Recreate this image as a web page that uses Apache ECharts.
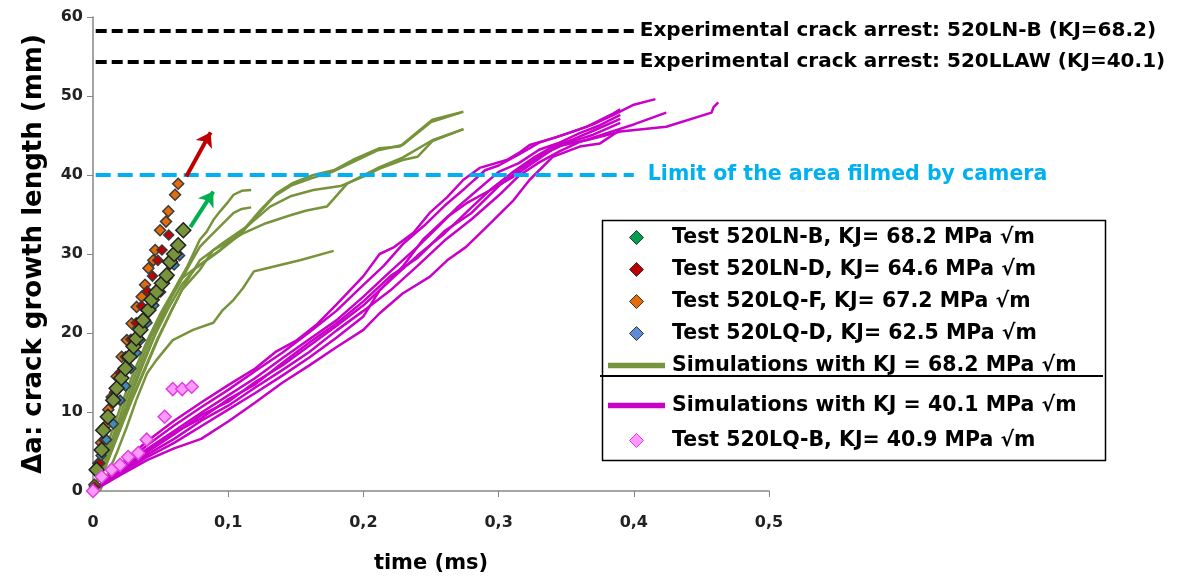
<!DOCTYPE html>
<html lang="en">
<head>
<meta charset="UTF-8">
<title>Crack growth vs time</title>
<script src="https://cdn.jsdelivr.net/npm/echarts@6/dist/echarts.min.js"></script>
</head>
<body style="margin:0">
<div id="main" style="width:1183px;height:583px;"></div>
<script type="text/javascript">

// --- tests (time ms, crack growth mm)
var testLNB = [[0.0027,2.7],[0.0064,5.2],[0.0076,7.7],[0.011,9.4],[0.015,11.5],[0.0175,13.0],[0.021,14.3],[0.024,15.5],[0.027,17.0],[0.030,18.3],[0.032,19.3],[0.035,20.4],[0.037,21.6],[0.041,22.9],[0.0434,24.2],[0.047,25.2],[0.051,26.3],[0.0545,27.3],[0.057,29.0],[0.060,30.0],[0.063,31.1],[0.0668,33.0]];
var testLND = [[0.001,0.5],[0.005,3.5],[0.008,6.5],[0.012,9.5],[0.016,12.5],[0.02,15],[0.024,17],[0.028,19.2],[0.032,21.3],[0.036,23.4],[0.040,25.3],[0.044,27.2],[0.048,29.2],[0.051,30.5],[0.056,32.4]];
var testLQF = [[0.001,0.8],[0.004,3.5],[0.006,6.1],[0.009,8.2],[0.0113,10.3],[0.0138,11.9],[0.0175,14.5],[0.0212,17.0],[0.025,19.1],[0.0286,21.2],[0.0323,23.3],[0.036,24.6],[0.0385,26.1],[0.041,28.2],[0.0446,29.2],[0.046,30.5],[0.0496,33.0],[0.054,34.1],[0.0557,35.4],[0.0607,37.5],[0.063,38.9]];
var testLQD = [[0.002,2.5],[0.006,4.5],[0.01,6.5],[0.015,8.5],[0.02,11.5],[0.024,13.3],[0.028,15.5],[0.032,17.5],[0.035,19.1],[0.04,21.3],[0.045,23.5],[0.05,25.2],[0.055,27],[0.06,28.6],[0.064,29.8]];
var testLQB = [[0,0],[0.0064,1.8],[0.0138,2.7],[0.02,3.3],[0.026,4.3],[0.0335,4.8],[0.0397,6.5],[0.053,9.4],[0.059,12.9],[0.066,12.9],[0.073,13.2]];

// --- simulations KJ = 68.2
var simG1 = [[0,0],[0.006,3],[0.012,6.5],[0.02,10.5],[0.03,15],[0.04,19],[0.05,22.5],[0.06,25.5],[0.07,28.5],[0.079,31.8],[0.084,32.8],[0.089,34.3],[0.094,35.4],[0.1,36.6],[0.104,37.5],[0.11,38],[0.117,38.1]];
var simG2 = [[0,0],[0.007,3],[0.014,6.5],[0.022,10.5],[0.032,15],[0.043,19.5],[0.053,23],[0.063,26],[0.072,28.8],[0.079,30.9],[0.084,31.8],[0.094,33.5],[0.104,35.2],[0.11,35.7],[0.117,35.9]];
var simG3 = [[0,0],[0.008,3],[0.016,7],[0.025,11],[0.035,15.5],[0.045,19.5],[0.055,23.5],[0.064,26.7],[0.074,28],[0.094,30.5],[0.111,33],[0.124,35.6],[0.136,37.7],[0.148,39],[0.163,40],[0.178,40.6],[0.192,41.9],[0.212,43.4],[0.227,43.6],[0.251,47],[0.274,48]];
var simG4 = [[0,0],[0.009,3.5],[0.017,7.2],[0.026,11.2],[0.036,15.6],[0.046,19.8],[0.056,23.2],[0.066,26.2],[0.076,28.2],[0.092,30.2],[0.109,32.5],[0.122,35],[0.134,37.3],[0.147,38.7],[0.162,39.6],[0.177,40.4],[0.193,41.7],[0.21,43.1],[0.229,43.8],[0.25,46.7],[0.272,47.9]];
var simG5 = [[0,0],[0.009,3],[0.018,7],[0.027,11],[0.037,15],[0.047,19],[0.057,22.5],[0.066,25.5],[0.079,28],[0.089,30.5],[0.111,32.6],[0.128,33.9],[0.146,34.9],[0.158,35.5],[0.173,36],[0.188,38.9],[0.212,41],[0.229,42.2],[0.235,42.8],[0.251,44.4],[0.274,45.8]];
var simG6 = [[0,0],[0.01,3.4],[0.019,7.3],[0.028,11.2],[0.038,15.2],[0.048,19.2],[0.058,22.8],[0.068,26.2],[0.079,29.2],[0.096,31.4],[0.114,33.5],[0.131,36],[0.146,37.3],[0.163,38.1],[0.183,38.6],[0.2,39.8],[0.212,40.8],[0.229,41.9],[0.24,42.3],[0.251,44.3],[0.274,45.8]];
var simG7 = [[0.005,0],[0.01,1.8],[0.0175,4.8],[0.025,8.1],[0.032,11.5],[0.04,14.9],[0.047,16.6],[0.059,19.1],[0.074,20.4],[0.089,21.3],[0.096,22.9],[0.104,24.2],[0.111,25.7],[0.119,27.8],[0.124,28],[0.153,29.2],[0.178,30.4]];

// --- simulations KJ = 40.1
var simM1 = [[0,0],[0.02,3.3],[0.04,6.3],[0.06,8.9],[0.08,11.2],[0.1,13.4],[0.12,15.5],[0.135,17.6],[0.15,19],[0.165,21],[0.18,23.6],[0.2,27.2],[0.212,30],[0.222,30.8],[0.237,32.7],[0.249,35.2],[0.262,37.2],[0.274,39.4],[0.286,40.9],[0.306,41.9],[0.316,42.9],[0.323,43.8],[0.343,44.8],[0.365,46.1],[0.385,47.8],[0.39,48.3]];
var simM2 = [[0,0],[0.02,3],[0.04,5.8],[0.06,8.3],[0.08,10.6],[0.1,12.8],[0.12,15.2],[0.14,17.5],[0.16,20.1],[0.18,22.8],[0.2,26.1],[0.215,28.5],[0.23,31.4],[0.245,33.6],[0.26,36.1],[0.275,38.3],[0.29,40.6],[0.3,41.2],[0.315,42.6],[0.33,44.1],[0.35,45.2],[0.37,46.4],[0.385,47.6],[0.4,48.9],[0.416,49.6]];
var simM3 = [[0,0],[0.02,2.8],[0.04,5.3],[0.06,7.6],[0.08,9.9],[0.1,12.1],[0.12,14.3],[0.14,16.8],[0.16,19.2],[0.18,21.6],[0.2,24.6],[0.22,27.8],[0.24,30.9],[0.255,33.4],[0.27,36],[0.285,38.2],[0.3,40.4],[0.315,41.5],[0.33,43.2],[0.345,44.1],[0.36,45.3],[0.375,46.3],[0.39,47.6]];
var simM4 = [[0,0],[0.02,2.5],[0.04,4.9],[0.06,7.2],[0.08,9.6],[0.1,11.3],[0.12,13.8],[0.14,15.9],[0.16,18.4],[0.18,20.9],[0.2,23.5],[0.22,26.7],[0.24,29.8],[0.26,32.6],[0.28,35.9],[0.295,38.3],[0.31,40.3],[0.325,42.1],[0.34,43.6],[0.355,44.5],[0.37,45.6],[0.39,47.1]];
var simM5 = [[0,0],[0.02,2.4],[0.04,4.6],[0.06,6.6],[0.08,8.9],[0.1,10.8],[0.12,13.1],[0.14,15.3],[0.16,17.6],[0.18,20.3],[0.2,22.8],[0.22,25.4],[0.24,28.5],[0.26,31.7],[0.28,34.4],[0.3,37.4],[0.315,39.9],[0.33,41.6],[0.345,43],[0.36,44.2],[0.38,45.3],[0.4,46.4],[0.424,47.9]];
var simM6 = [[0,0],[0.02,2.2],[0.04,4.3],[0.06,6.1],[0.08,8.2],[0.1,10.3],[0.12,12.4],[0.14,14.6],[0.16,16.9],[0.18,19.4],[0.2,22.1],[0.212,25.4],[0.229,28.4],[0.244,31.8],[0.262,34.7],[0.276,36.4],[0.294,38.1],[0.311,39.8],[0.325,41.5],[0.343,43.6],[0.365,44.4],[0.39,45.5],[0.424,46.1],[0.4575,47.9],[0.459,48.6],[0.4625,49.2]];
var simM7 = [[0,0],[0.02,2],[0.04,3.9],[0.06,5.4],[0.08,6.6],[0.1,8.8],[0.12,11.2],[0.14,13.7],[0.16,15.9],[0.18,18.2],[0.2,20.4],[0.212,22.5],[0.229,25],[0.249,27.1],[0.262,29.2],[0.276,30.9],[0.294,33.9],[0.311,36.8],[0.323,39.4],[0.34,42.3],[0.36,43.6],[0.375,44],[0.39,45.7]];
var simM8 = [[0,0],[0.02,2.6],[0.04,5.1],[0.06,7.4],[0.08,9.2],[0.1,11.6],[0.12,13.5],[0.14,16.2],[0.16,18.8],[0.18,21.2],[0.2,24],[0.22,27.2],[0.24,29.5],[0.26,32.9],[0.28,35.2],[0.3,38.6],[0.315,40.6],[0.33,42.4],[0.35,44],[0.37,45.1],[0.39,46.6]];

// reference levels
var arrestLNB = 58.2;
var arrestLLAW = 54.3;
var cameraLimit = 40;

var nLNB = 'Test 520LN-B, KJ= 68.2 MPa √m';
var nLND = 'Test 520LN-D, KJ= 64.6 MPa √m';
var nLQF = 'Test 520LQ-F, KJ= 67.2 MPa √m';
var nLQD = 'Test 520LQ-D, KJ= 62.5 MPa √m';
var nSimG = 'Simulations with KJ = 68.2 MPa √m';
var nSimM = 'Simulations with KJ = 40.1 MPa √m';
var nLQB = 'Test 520LQ-B, KJ= 40.9 MPa √m';

var OLIVE = '#77933C';
var MAG = '#C800C8';
var FONT = 'DejaVu Sans';

var myChart = echarts.init(document.getElementById('main'));

function sim(name, data, color) {
  return {
    name: name, type: 'line', data: data, symbol: 'none', z: 2,
    lineStyle: { color: color, width: 2.5 }, itemStyle: { color: color }
  };
}
function pts(name, data, fill, border, size, z) {
  return {
    name: name, type: 'scatter', data: data, symbol: 'diamond', symbolSize: size, z: z,
    itemStyle: { color: fill, borderColor: border, borderWidth: 1.5, opacity: 1 }
  };
}
var LINE_ICON = 'path://M0,0 H60 V6 H0 Z';
var DIAMOND_ICON = 'path://M0,7 L7,0 L14,7 L7,14 Z';

var series = [];
[simG1, simG2, simG3, simG4, simG5, simG6, simG7].forEach(function (d) { series.push(sim(nSimG, d, OLIVE)); });
[simM1, simM2, simM3, simM4, simM5, simM6, simM7, simM8].forEach(function (d) { series.push(sim(nSimM, d, MAG)); });
series.push(pts(nLQF, testLQF, '#E46C0A', '#3b3b3b', 11, 3));
series.push(pts(nLND, testLND, '#C00000', '#3b3b3b', 10, 3));
series.push(pts(nLQD, testLQD, '#3C8DBC', '#3b3b3b', 10, 3));
series.push(pts(nLNB, testLNB, OLIVE, '#222', 15, 4));
series.push(pts(nLQB, testLQB, '#FF99FF', '#E040E0', 13, 4));

// dashed reference lines, labels and arrows
var lblStyle = { show: true, position: 'end', distance: 6, fontFamily: FONT, fontWeight: 'bold', fontSize: 20 };
series.push({
  name: 'ref', type: 'line', data: [], z: 3,
  markLine: {
    silent: true, animation: false, symbol: 'none',
    data: [
      [{ coord: [0.002, arrestLNB], lineStyle: { color: '#000', width: 4, type: [11, 5] },
         label: Object.assign({ formatter: 'Experimental crack arrest: 520LN-B (KJ=68.2)', color: '#000' }, lblStyle) },
       { coord: [0.4, arrestLNB] }],
      [{ coord: [0.002, arrestLLAW], lineStyle: { color: '#000', width: 4, type: [11, 5] },
         label: Object.assign({ formatter: 'Experimental crack arrest: 520LLAW (KJ=40.1)', color: '#000' }, lblStyle) },
       { coord: [0.4, arrestLLAW] }],
      [{ coord: [0.002, cameraLimit], lineStyle: { color: '#00B0F0', width: 4, type: [15, 7] },
         label: Object.assign({}, lblStyle, { formatter: 'Limit of the area filmed by camera', color: '#00B0F0', distance: 14, fontSize: 20.5, padding: [8, 0, 0, 0] }) },
       { coord: [0.4, cameraLimit] }],
      [{ coord: [0.069, 39.8], symbol: 'none', lineStyle: { color: '#C00000', width: 4, type: 'solid' }, label: { show: false } },
       { coord: [0.087, 45.4], symbol: 'arrow', symbolSize: [14, 14] }],
      [{ coord: [0.072, 33.4], symbol: 'none', lineStyle: { color: '#00B050', width: 4, type: 'solid' }, label: { show: false } },
       { coord: [0.089, 37.9], symbol: 'arrow', symbolSize: [14, 14] }]
    ]
  }
});

var legText = { fontFamily: FONT, fontWeight: 'bold', fontSize: 20.5, color: '#000', lineHeight: 20, padding: [0, 0, 0, 2] };

var option = {
  animation: false,
  grid: { left: 93, right: 414, top: 17, bottom: 92 },
  xAxis: {
    type: 'value', min: 0, max: 0.5, interval: 0.1,
    name: 'time (ms)', nameLocation: 'middle', nameGap: 62,
    nameTextStyle: { fontFamily: FONT, fontWeight: 'bold', fontSize: 21, color: '#000' },
    axisLine: { lineStyle: { color: '#868686', width: 1.5 } },
    axisTick: { show: true, length: 6, lineStyle: { color: '#868686' } },
    axisLabel: { margin: 24, fontFamily: FONT, fontWeight: 'bold', fontSize: 16, color: '#222',
      formatter: function (v) { return String(+v.toFixed(1)).replace('.', ','); } },
    splitLine: { show: false }
  },
  yAxis: {
    type: 'value', min: 0, max: 60, interval: 10,
    name: 'Δa: crack growth length (mm)', nameLocation: 'middle', nameGap: 46, nameRotate: 90,
    nameTextStyle: { fontFamily: FONT, fontWeight: 'bold', fontSize: 26, color: '#000' },
    axisLine: { show: true, lineStyle: { color: '#868686', width: 1.5 } },
    axisTick: { show: true, length: 6, lineStyle: { color: '#868686' } },
    axisLabel: { margin: 10, fontFamily: FONT, fontWeight: 'bold', fontSize: 16, color: '#222' },
    splitLine: { show: false }
  },
  legend: [{
    orient: 'vertical', left: 603, top: 222, itemWidth: 57, itemHeight: 14, itemGap: 11,
    selectedMode: false, textStyle: legText, symbolKeepAspect: true,
    data: [
      { name: nLNB, icon: DIAMOND_ICON, itemStyle: { color: '#00A050', borderColor: '#333', borderWidth: 1 } },
      { name: nLND, icon: DIAMOND_ICON, itemStyle: { color: '#C00000', borderColor: '#333', borderWidth: 1 } },
      { name: nLQF, icon: DIAMOND_ICON, itemStyle: { color: '#E46C0A', borderColor: '#333', borderWidth: 1 } },
      { name: nLQD, icon: DIAMOND_ICON, itemStyle: { color: '#5B8ED6', borderColor: '#333', borderWidth: 1 } },
      { name: nSimG, icon: LINE_ICON, itemStyle: { color: OLIVE, borderWidth: 0 } }
    ]
  }, {
    orient: 'vertical', left: 603, top: 390, itemWidth: 57, itemHeight: 14, itemGap: 14,
    selectedMode: false, textStyle: legText, symbolKeepAspect: true,
    data: [
      { name: nSimM, icon: LINE_ICON, itemStyle: { color: MAG, borderWidth: 0 } },
      { name: nLQB, icon: DIAMOND_ICON, itemStyle: { color: '#FF99FF', borderColor: '#E040E0', borderWidth: 1 } }
    ]
  }],
  graphic: [
    { type: 'rect', left: 600, top: 218, shape: { width: 503, height: 240 }, silent: true,
      style: { fill: 'none', stroke: '#000', lineWidth: 1.5 }, z: 10 },
    { type: 'line', shape: { x1: 600, y1: 376, x2: 1103, y2: 376 }, silent: true,
      style: { stroke: '#000', lineWidth: 2 }, z: 10 }
  ],
  series: series
};

myChart.setOption(option);

</script>
</body>
</html>
